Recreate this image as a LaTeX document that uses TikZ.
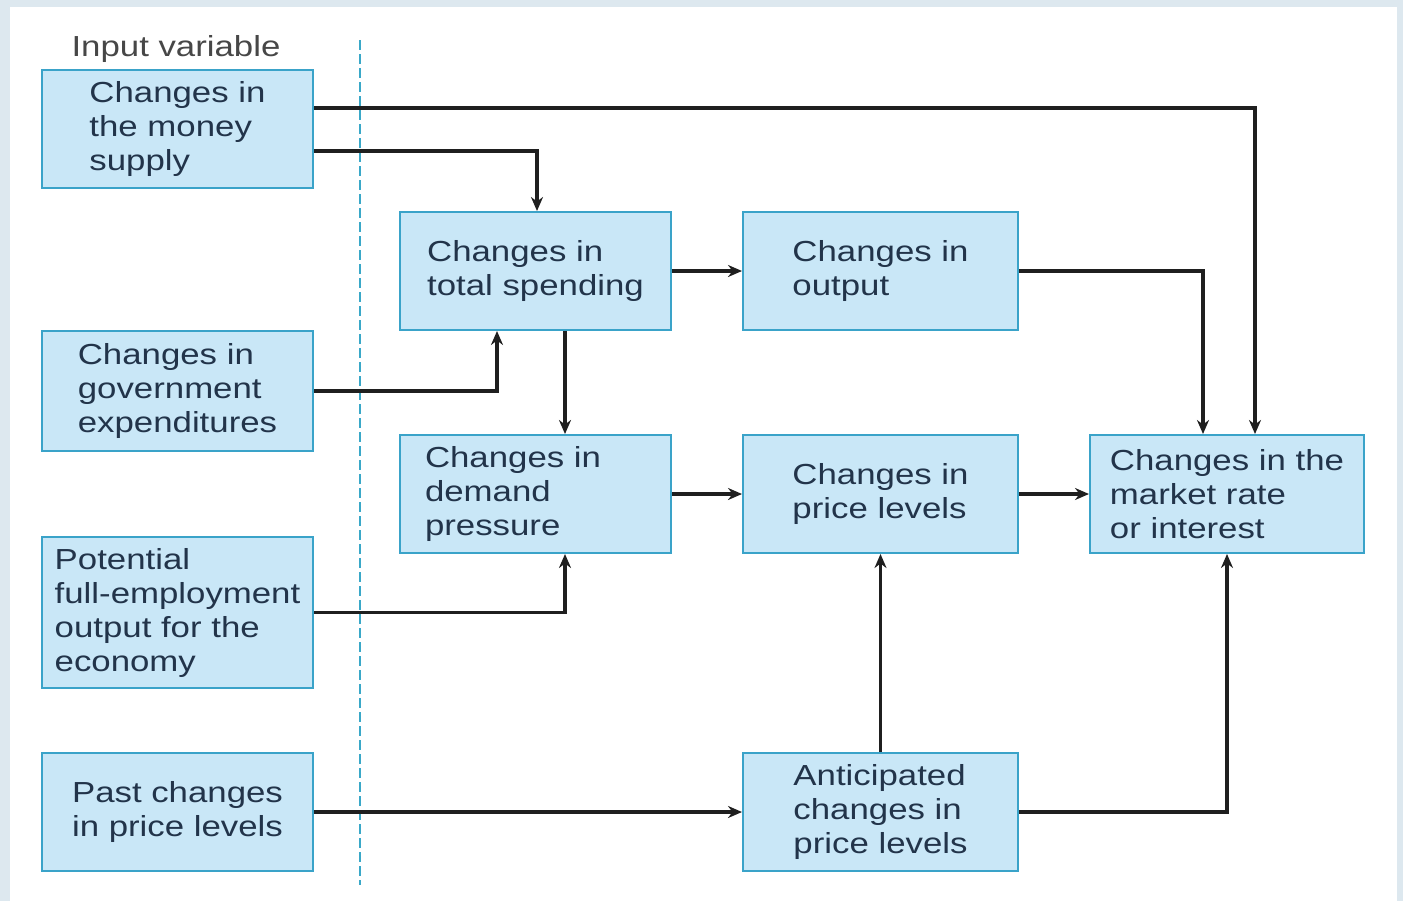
\documentclass[tikz,border=0pt]{standalone}
\usepackage{fontspec}
\setmainfont{Liberation Sans}[FakeStretch=1.2]
\usetikzlibrary{arrows.meta}
\definecolor{bandbg}{HTML}{DDE8EF}
\definecolor{boxfill}{HTML}{C9E7F7}
\definecolor{boxline}{HTML}{3AA3C9}
\definecolor{boxtext}{HTML}{22344A}
\definecolor{dashcol}{HTML}{3AA8C8}
\begin{document}
\begin{tikzpicture}[x=0.5pt,y=-0.5pt,
  box/.style={draw=boxline, fill=boxfill, line width=1pt, align=left,
    inner sep=0pt, text=boxtext, font=\fontsize{14.5pt}{17pt}\selectfont},
  arr/.style={line width=1.8pt, draw=black!88, -{Stealth[length=7pt,width=6pt]}},
  lbl/.style={text=black!72, font=\fontsize{14.5pt}{17pt}\selectfont, inner sep=0pt}]
\useasboundingbox (0,0) rectangle (1403,901);
\fill[bandbg] (0,0) rectangle (1403,901);
\fill[white] (10,7) rectangle (1397,901);
% divider
\draw[dashcol, line width=0.8pt, dash pattern=on 5pt off 2pt] (360,40) -- (360,885);
\node[lbl] (iv) at (176,49) {Input variable};
% boxes
\node[box, minimum width=135.5pt, minimum height=59pt] (ms) at (177.5,129) {Changes in\\the money\\supply};
\node[box, minimum width=135.5pt, minimum height=60pt] (gov) at (177.5,391) {Changes in\\government\\expenditures};
\node[box, minimum width=135.5pt, minimum height=75.5pt] (pot) at (177.5,612.5) {Potential\\full-employment\\output for the\\economy};
\node[box, minimum width=135.5pt, minimum height=59pt] (past) at (177.5,812) {Past changes\\in price levels};
\node[box, minimum width=135.5pt, minimum height=59pt] (ts) at (535.5,271) {Changes in\\total spending};
\node[box, minimum width=137.5pt, minimum height=59pt] (out) at (880.5,271) {Changes in\\output};
\node[box, minimum width=135.5pt, minimum height=59pt, text width=110.5pt] (dp) at (535.5,494) {Changes in\\demand\\pressure};
\node[box, minimum width=137.5pt, minimum height=59pt] (pl) at (880.5,494) {Changes in\\price levels};
\node[box, minimum width=137pt, minimum height=59pt] (mr) at (1227,494) {Changes in the\\market rate\\or interest};
\node[box, minimum width=137.5pt, minimum height=59pt] (ant) at (880.5,812) {Anticipated\\changes in\\price levels};
% connectors
\draw[arr] ([yshift=10.5pt]ms.east) -| ([xshift=14pt]mr.north);
\draw[arr] ([yshift=-11pt]ms.east) -| ([xshift=0.75pt]ts.north);
\draw[arr] (gov.east) -| ([xshift=-19.25pt]ts.south);
\draw[arr] ([xshift=14.75pt]ts.south) -- ([xshift=14.75pt]dp.north);
\draw[arr] (ts.east) -- (out.west);
\draw[arr] (out.east) -| ([xshift=-12pt]mr.north);
\draw[arr] (dp.east) -- (pl.west);
\draw[arr] (pl.east) -- (mr.west);
\draw[arr] (pot.east) -| ([xshift=14.75pt]dp.south);
\draw[arr] (past.east) -- (ant.west);
\draw[arr] (ant.north) -- (pl.south);
\draw[arr] (ant.east) -| (mr.south);
\end{tikzpicture}
\end{document}
